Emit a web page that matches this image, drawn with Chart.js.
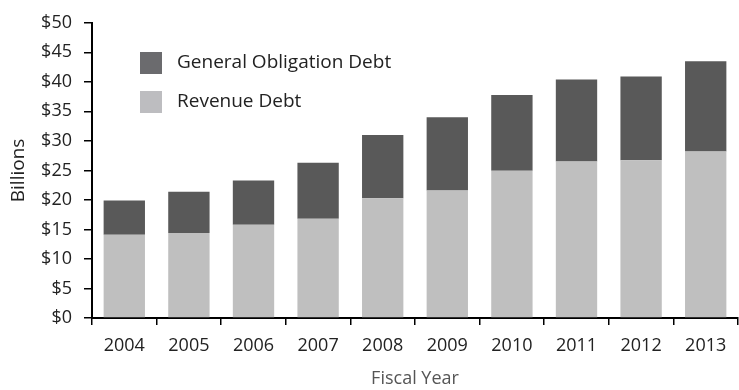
<!DOCTYPE html>
<html>
<head>
<meta charset="utf-8">
<script src="https://cdn.jsdelivr.net/npm/chart.js@4"></script>
<style>
  html, body { margin: 0; padding: 0; background: #fff; }
  #wrap { width: 739px; height: 390px; }
</style>
</head>
<body>
<div id="wrap"><canvas id="debtChart" width="739" height="390"></canvas></div>
<script>
// Daten (Milliarden $)
const years = ['2004', '2005', '2006', '2007', '2008', '2009', '2010', '2011', '2012', '2013'];
const revenueDebt = [14.1, 14.4, 15.8, 16.8, 20.3, 21.6, 24.95, 26.5, 26.7, 28.2];
const generalObligationDebt = [5.8, 7.0, 7.5, 9.5, 10.7, 12.4, 12.8, 13.9, 14.2, 15.3];
const yTicks = [0, 5, 10, 15, 20, 25, 30, 35, 40, 45, 50];

const FONT = "'Open Sans', 'Noto Sans', sans-serif";

// Legende innerhalb der Plotfläche zeichnen
const insideLegend = {
    id: 'insideLegend',
    afterDraw(chart) {
        const ctx = chart.ctx;
        const items = [
            { label: 'General Obligation Debt', color: '#6b6b6e' },
            { label: 'Revenue Debt', color: '#bdbdc0' }
        ];
        ctx.save();
        ctx.font = '19px ' + FONT;
        ctx.textBaseline = 'middle';
        items.forEach(function(item, i) {
            const y = 52 + i * 39;
            ctx.fillStyle = item.color;
            ctx.fillRect(140, y, 22, 22);
            ctx.fillStyle = '#222';
            ctx.fillText(item.label, 177, y + 11);
        });
        ctx.restore();
    }
};

const ctx = document.getElementById('debtChart').getContext('2d');
new Chart(ctx, {
    type: 'bar',
    data: {
        labels: years,
        datasets: [{
            label: 'Revenue Debt',
            data: revenueDebt,
            backgroundColor: '#bfbfbf',
            borderWidth: 0,
            barPercentage: 0.64,
            categoryPercentage: 1.0
        }, {
            label: 'General Obligation Debt',
            data: generalObligationDebt,
            backgroundColor: '#595959',
            borderWidth: 0,
            barPercentage: 0.64,
            categoryPercentage: 1.0
        }]
    },
    options: {
        responsive: false,
        animation: false,
        layout: { padding: { top: 16, right: 1, left: 0, bottom: 0 } },
        scales: {
            x: {
                stacked: true,
                grid: {
                    display: true,
                    drawOnChartArea: false,
                    drawTicks: true,
                    tickLength: 7,
                    color: '#000',
                    lineWidth: 1.5,
                    offset: true
                },
                border: { color: '#000', width: 2 },
                ticks: {
                    color: '#222',
                    font: { family: FONT, size: 18 },
                    padding: 10,
                    maxRotation: 0
                },
                title: {
                    display: true,
                    text: 'Fiscal Year',
                    color: '#555',
                    font: { family: FONT, size: 18 },
                    padding: { top: 0, bottom: 0 }
                },
                afterFit: function(scale) { scale.height = 72; }
            },
            y: {
                stacked: true,
                min: 0,
                max: 50,
                afterBuildTicks: function(scale) {
                    scale.ticks = yTicks.map(function(v) { return { value: v }; });
                },
                grid: {
                    display: true,
                    drawOnChartArea: false,
                    drawTicks: true,
                    tickLength: 8,
                    color: '#000',
                    lineWidth: 1.5
                },
                border: { color: '#000', width: 2 },
                ticks: {
                    color: '#222',
                    font: { family: FONT, size: 18 },
                    padding: 12,
                    callback: function(value) { return '$' + value; }
                },
                title: {
                    display: true,
                    text: 'Billions',
                    color: '#222',
                    font: { family: FONT, size: 19 },
                    padding: { top: 7, bottom: 0 }
                },
                afterFit: function(scale) { scale.width = 92; }
            }
        },
        plugins: {
            legend: { display: false },
            tooltip: { enabled: false }
        }
    },
    plugins: [insideLegend]
});
</script>
</body>
</html>
